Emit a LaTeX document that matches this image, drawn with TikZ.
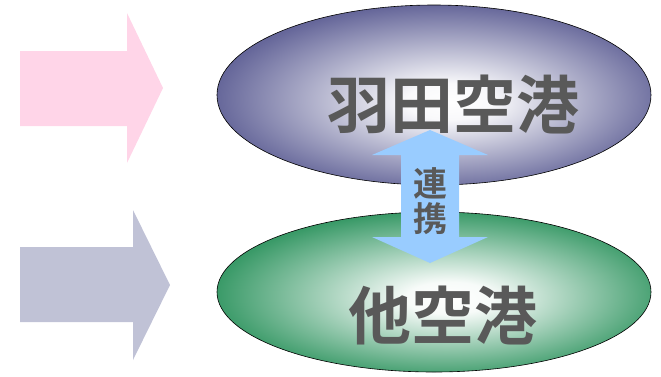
\documentclass[tikz,border=0pt]{standalone}
\usepackage{fontspec}
\newfontfamily\cjk{Noto Sans CJK JP}[BoldFont={Noto Sans CJK JP Bold}]
\definecolor{pinkarrow}{HTML}{FFD5E8}
\definecolor{grayarrow}{HTML}{C0C2D6}
\definecolor{topouter}{HTML}{66679A}
\definecolor{botouter}{HTML}{3A9A68}
\definecolor{linkblue}{HTML}{99CCFF}
\definecolor{txtgray}{HTML}{595959}
\pgfdeclareradialshading{topglow}{\pgfpoint{2bp}{-2bp}}{color(0bp)=(white); color(5bp)=(white!96!topouter); color(26bp)=(topouter); color(50bp)=(topouter)}
\pgfdeclareradialshading{botglow}{\pgfpoint{2bp}{-2bp}}{color(0bp)=(white); color(5bp)=(white!96!botouter); color(26bp)=(botouter); color(50bp)=(botouter)}
\tikzset{
  airport/.style={font=\cjk\bfseries\fontsize{63}{66}\selectfont, text=txtgray, inner sep=0pt},
  linklabel/.style={font=\cjk\bfseries\fontsize{34}{36}\selectfont, text=txtgray, inner sep=0pt}
}
\begin{document}
\begin{tikzpicture}[x=1pt,y=-1pt]
\useasboundingbox (0,0) rectangle (661,376);
% left arrows
\fill[pinkarrow] (20,51) -- (127,51) -- (127,13) -- (163,88) -- (127,163) -- (127,126) -- (20,126) -- cycle;
\fill[grayarrow] (20,247) -- (133,247) -- (133,210) -- (170,285) -- (133,360) -- (133,322) -- (20,322) -- cycle;
% ellipses
\path[shading=topglow, draw=black, line width=0.6pt] (434,95) ellipse [x radius=217pt, y radius=90pt];
\path[shading=botglow, draw=black, line width=0.6pt] (434,292) ellipse [x radius=217pt, y radius=80pt];
\node[airport] (haneda) at (453,104) {羽田空港};
\node[airport] (other) at (443,315) {他空港};
% link arrow
\fill[linkblue] (430,130) -- (488,155) -- (459,155) -- (459,237) -- (488,237) -- (430,263) -- (372,237) -- (401,237) -- (401,155) -- (372,155) -- cycle;
\node[linklabel] (link1) at (430,183) {連};
\node[linklabel] (link2) at (430,219) {携};
\end{tikzpicture}
\end{document}
